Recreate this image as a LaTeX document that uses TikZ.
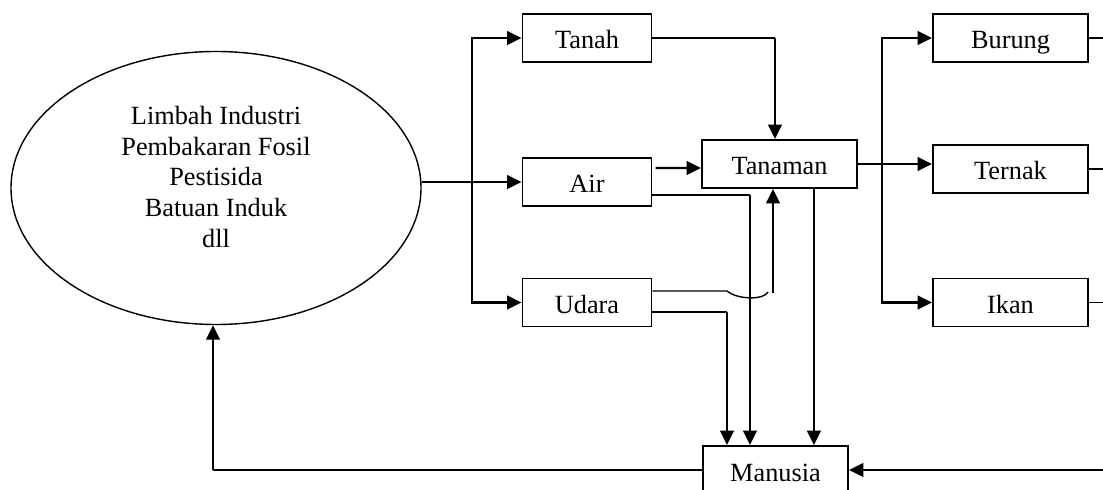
\documentclass[tikz,border=0pt]{standalone}
\usepackage{fontspec}
\setmainfont{Liberation Serif}
\usepackage{tikz}
\usetikzlibrary{shapes.geometric, arrows.meta, positioning}
\newcommand{\diagfont}{\fontsize{18.7}{21.7}\selectfont}
\tikzset{
    cemar/.style={line cap=butt, line join=miter, font=\diagfont},
    kotak/.style={draw, line width=1.3pt, minimum height=1.2cm,
                  minimum width=3.225cm, inner sep=0pt, align=center,
                  text height=0.55cm, text depth=0cm},
    kotaklebar/.style={kotak, minimum width=3.875cm},
    sumber/.style={draw, line width=1pt, ellipse, minimum width=10.25cm,
                   minimum height=6.825cm, inner sep=0pt},
    alir/.style={-{Triangle[length=3.6mm, width=3.4mm]}, line width=1.6pt},
    kawat/.style={line width=1pt},
}

\begin{document}
\begin{tikzpicture}[cemar]
\useasboundingbox (0,0) rectangle (27.575,-12.25);
\clip (0,0) rectangle (27.575,-12.25);

% ─── Sumber pencemar ────────────────────────────────────────────────────
\node[sumber] (src) at (5.40,-4.70) {};
\node[align=center, inner sep=0pt] (srcteks) at ([yshift=2.75mm]src.center)
    {Limbah Industri\\Pembakaran Fosil\\Pestisida\\Batuan Induk\\dll};

% ─── Media lingkungan ───────────────────────────────────────────────────
\node[kotak] (tanah) at (14.675,-0.95)   {Tanah};
\node[kotak] (air)   at (14.675,-4.55)   {Air};
\node[kotak] (udara) at (14.675,-7.5625) {Udara};

% ─── Penerima ───────────────────────────────────────────────────────────
\node[kotaklebar] (tanaman) at (19.4875,-4.10)   {Tanaman};
\node[kotaklebar] (burung)  at (25.2625,-0.95)   {Burung};
\node[kotaklebar] (ternak)  at (25.2625,-4.225)  {Ternak};
\node[kotaklebar] (ikan)    at (25.2625,-7.5625) {Ikan};
\node[kotak, minimum width=3.625cm] (manusia) at (19.3875,-11.75) {Manusia};

% ─── Titik bantu ────────────────────────────────────────────────────────
\coordinate (jL)     at (11.80,-4.55);
\coordinate (jR)     at (22.05,-4.10);
\coordinate (kTanah) at (19.375,-0.95);
\coordinate (kAir)   at (18.75,-4.875);
\coordinate (kUdara) at (18.175,-7.80);
\coordinate (kJem)   at (18.175,-7.275);
\coordinate (kNaik)  at (19.325,-7.325);
\coordinate (kBalik) at (5.325,-11.75);
\coordinate (luar)   at (28.2,-11.75);

% ─── Sumber ke media ────────────────────────────────────────────────────
\draw[kawat] (src.east |- jL) -- (jL);
\draw[alir]  (jL) -- (air.west);
\draw[alir]  (jL) |- (tanah.west);
\draw[alir]  (jL) |- (udara.west);

% ─── Media ke tanaman ───────────────────────────────────────────────────
\draw[kawat] (tanah.east) -- (kTanah);
\draw[alir]  (kTanah) -- (kTanah |- tanaman.north);
\draw[alir]  ([shift={(0.08,0.35)}]air.east) -- ([yshift=-1mm]tanaman.west);
% udara melompati garis air
\draw[kawat] (udara.east |- kJem) -- (kJem)
    .. controls (18.45,-7.50) and (19.10,-7.50) .. (19.20,-7.30);
\draw[alir]  (kNaik) -- (kNaik |- tanaman.south);

% ─── Ke manusia ─────────────────────────────────────────────────────────
\draw[kawat] (air.east |- kAir) -- (kAir);
\draw[alir]  (kAir) -- (kAir |- manusia.north);
\draw[kawat] (udara.east |- kUdara) -- (kUdara);
\draw[alir]  (kUdara) -- (kUdara |- manusia.north);
\draw[alir]  ([xshift=8.6mm]tanaman.south) -- ([xshift=8.6mm]tanaman.south |- manusia.north);

% ─── Tanaman ke hewan ───────────────────────────────────────────────────
\draw[alir] (tanaman.east) -- (tanaman.east -| ternak.west);
\draw[alir] (jR) |- (burung.west);
\draw[alir] (jR) |- (ikan.west);

% ─── Hewan ke manusia, manusia ke sumber ────────────────────────────────
\foreach \n in {burung,ternak,ikan}{
    \draw[kawat] (\n.east) -- (\n.east -| luar);
}
\draw[alir]  (luar) -- (manusia.east);
\draw[kawat] (manusia.west) -- (kBalik);
\draw[alir]  (kBalik) -- (kBalik |- src.south);

\end{tikzpicture}
\end{document}
